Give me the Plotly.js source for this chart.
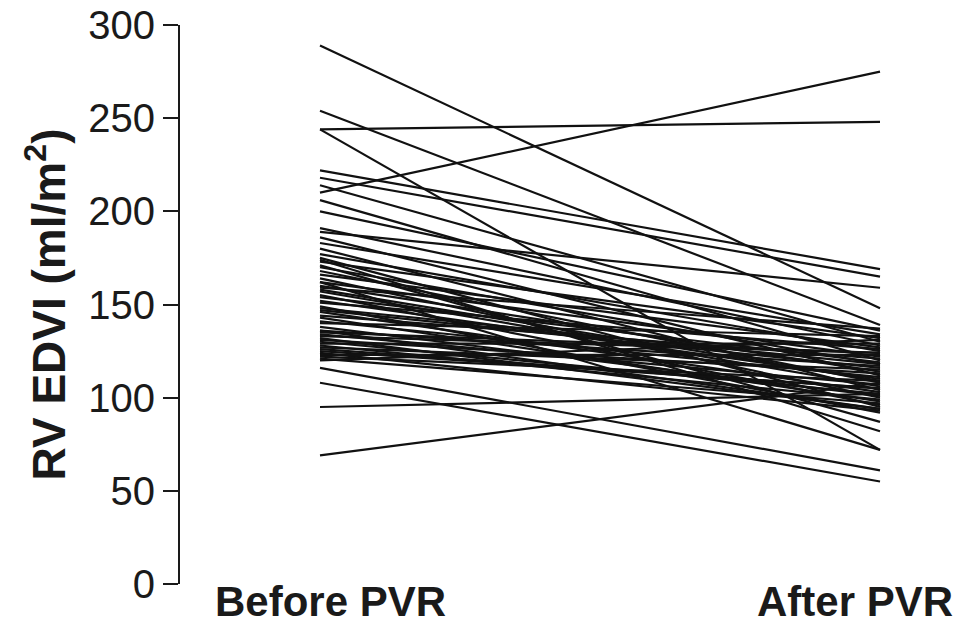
<!DOCTYPE html>
<html>
<head>
<meta charset="utf-8">
<script src="https://cdn.plot.ly/plotly-3.0.1.min.js"></script>
<style>html,body{margin:0;padding:0;background:#fff}#chart{width:965px;height:625px}</style>
</head>
<body>
<div id="chart"></div>
<script>
const categories = ["Before PVR", "After PVR"];
const yTicks = [0, 50, 100, 150, 200, 250, 300];
// RV EDVI (ml/m2) per patient
const beforePVR = [289, 254, 244, 244, 222, 218, 214, 210, 206, 200, 191, 189, 186, 183, 180, 177, 175, 174, 173, 171, 170, 168, 166, 164, 162, 162, 160, 159, 158, 157, 155, 154, 152, 151, 149, 148, 147, 146, 144, 143, 141, 140, 138, 136, 136, 135, 134, 133, 132, 131, 130, 129, 128, 127, 126, 125, 124, 123, 122, 121, 120, 116, 108, 95, 69];
const afterPVR  = [148, 139, 248, 72, 169, 165, 130, 275, 120, 136, 128, 159, 112, 134, 104, 125, 95, 82, 132, 87, 118, 108, 127, 100, 122, 72, 114, 137, 109, 106, 96, 119, 110, 126, 92, 118, 116, 103, 121, 98, 111, 133, 101, 117, 94, 124, 107, 124, 94, 113, 102, 129, 99, 115, 105, 105, 93, 123, 109, 97, 131, 61, 55, 102, 108];

const traces = beforePVR.map((b, i) => ({
  x: [0, 1],
  y: [b, afterPVR[i]],
  type: "scatter",
  mode: "lines",
  line: {color: "#111", width: 2.2},
  hoverinfo: "skip",
  showlegend: false
}));

const layout = {
  width: 965, height: 625,
  margin: {l: 180, r: 25, t: 25, b: 41},
  paper_bgcolor: "#fff", plot_bgcolor: "#fff",
  font: {family: "Liberation Sans, Arial, sans-serif", color: "#1a1a1a"},
  showlegend: false,
  xaxis: {
    range: [-0.25, 1.1071],
    showline: false, showgrid: false, zeroline: false,
    showticklabels: false, ticks: "", fixedrange: true
  },
  yaxis: {
    range: [0, 300],
    tickvals: yTicks,
    ticktext: yTicks.map(String),
    showline: true, linecolor: "#1a1a1a", linewidth: 2,
    ticks: "outside", ticklen: 15, tickwidth: 2, tickcolor: "#1a1a1a",
    showgrid: false, zeroline: false,
    tickfont: {size: 40, family: "Liberation Sans, Arial, sans-serif", color: "#1a1a1a"},
    title: {text: "<b>RV EDVI (ml/m<sup>2</sup>)</b>", font: {size: 46, family: "Liberation Sans, Arial, sans-serif", color: "#1a1a1a"}, standoff: 8},
    automargin: false
  },
  annotations: [
    {x: 0.018, y: -0.032, xref: "x", yref: "paper", text: "<b>" + categories[0] + "</b>", showarrow: false, xanchor: "center", yanchor: "middle", font: {size: 42, family: "Liberation Sans, Arial, sans-serif", color: "#1a1a1a"}},
    {x: 0.955, y: -0.032, xref: "x", yref: "paper", text: "<b>" + categories[1] + "</b>", showarrow: false, xanchor: "center", yanchor: "middle", font: {size: 42, family: "Liberation Sans, Arial, sans-serif", color: "#1a1a1a"}}
  ]
};

Plotly.newPlot("chart", traces, layout, {displayModeBar: false, staticPlot: true});
</script>
</body>
</html>
